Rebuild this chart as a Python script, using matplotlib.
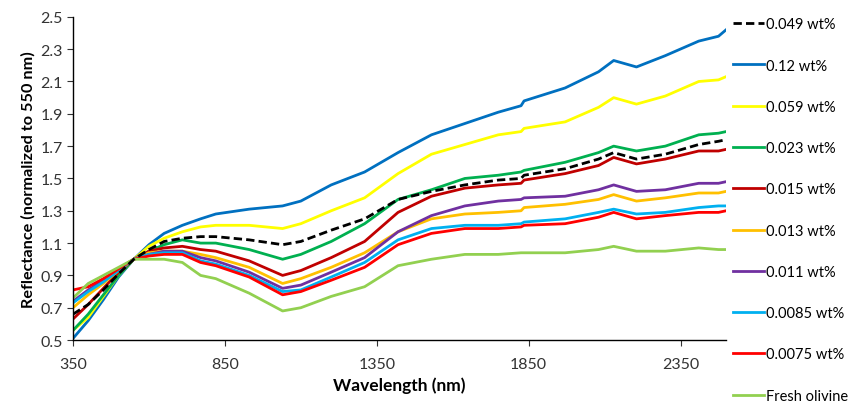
import matplotlib
matplotlib.use("Agg")
import matplotlib.pyplot as plt

plt.rcParams["font.family"] = ["Lato", "DejaVu Sans"]

# wavelength grid (nm)
wavelength = [350, 400, 450, 500, 550, 600, 650, 710, 770, 820, 930, 1040, 1100,
              1200, 1310, 1420, 1530, 1640, 1750, 1825, 1835, 1970, 2080, 2130,
              2205, 2300, 2410, 2475, 2500]

r_0049 = [0.66, 0.72, 0.81, 0.91, 1.00, 1.06, 1.11, 1.13, 1.14, 1.14, 1.12, 1.09, 1.11,
          1.18, 1.25, 1.37, 1.42, 1.46, 1.49, 1.50, 1.52, 1.56, 1.62, 1.66,
          1.62, 1.65, 1.71, 1.73, 1.74]
r_012 = [0.51, 0.62, 0.75, 0.89, 1.00, 1.09, 1.16, 1.21, 1.25, 1.28, 1.31, 1.33, 1.36,
         1.46, 1.54, 1.66, 1.77, 1.84, 1.91, 1.95, 1.98, 2.06, 2.16, 2.23,
         2.19, 2.26, 2.35, 2.38, 2.42]
r_0059 = [0.56, 0.64, 0.77, 0.90, 1.00, 1.08, 1.13, 1.17, 1.20, 1.21, 1.21, 1.19, 1.22,
          1.30, 1.38, 1.53, 1.65, 1.71, 1.77, 1.79, 1.81, 1.85, 1.94, 2.00,
          1.96, 2.01, 2.10, 2.11, 2.13]
r_0023 = [0.56, 0.66, 0.78, 0.90, 1.00, 1.05, 1.09, 1.12, 1.10, 1.10, 1.06, 1.00, 1.03,
          1.11, 1.22, 1.37, 1.43, 1.50, 1.52, 1.54, 1.55, 1.60, 1.66, 1.70,
          1.67, 1.70, 1.77, 1.78, 1.79]
r_0015 = [0.63, 0.72, 0.82, 0.92, 1.00, 1.05, 1.07, 1.08, 1.06, 1.05, 0.99, 0.90, 0.93,
          1.01, 1.11, 1.29, 1.39, 1.44, 1.46, 1.47, 1.49, 1.53, 1.58, 1.63,
          1.59, 1.62, 1.67, 1.67, 1.68]
r_0013 = [0.70, 0.78, 0.85, 0.93, 1.00, 1.04, 1.05, 1.05, 1.03, 1.01, 0.95, 0.85, 0.88,
          0.95, 1.04, 1.17, 1.25, 1.28, 1.29, 1.30, 1.32, 1.34, 1.37, 1.40,
          1.36, 1.38, 1.41, 1.41, 1.42]
r_0011 = [0.74, 0.81, 0.87, 0.94, 1.00, 1.03, 1.05, 1.05, 1.01, 0.99, 0.92, 0.82, 0.84,
          0.92, 1.01, 1.17, 1.27, 1.33, 1.36, 1.37, 1.38, 1.39, 1.43, 1.46,
          1.42, 1.43, 1.47, 1.47, 1.48]
r_00085 = [0.73, 0.80, 0.86, 0.93, 1.00, 1.03, 1.04, 1.04, 0.99, 0.97, 0.90, 0.80, 0.81,
           0.89, 0.98, 1.12, 1.19, 1.21, 1.21, 1.22, 1.23, 1.25, 1.29, 1.31,
           1.28, 1.29, 1.32, 1.33, 1.33]
r_00075 = [0.81, 0.83, 0.88, 0.94, 1.00, 1.02, 1.03, 1.03, 0.98, 0.96, 0.89, 0.78, 0.80,
           0.87, 0.95, 1.09, 1.16, 1.19, 1.19, 1.20, 1.21, 1.22, 1.26, 1.29,
           1.25, 1.27, 1.29, 1.29, 1.30]
r_fresh = [0.76, 0.85, 0.90, 0.95, 1.00, 1.00, 1.00, 0.98, 0.90, 0.88, 0.79, 0.68, 0.70,
           0.77, 0.83, 0.96, 1.00, 1.03, 1.03, 1.04, 1.04, 1.04, 1.06, 1.08,
           1.05, 1.05, 1.07, 1.06, 1.06]

labels = ["0.049 wt%", "0.12 wt%", "0.059 wt%", "0.023 wt%", "0.015 wt%",
          "0.013 wt%", "0.011 wt%", "0.0085 wt%", "0.0075 wt%", "Fresh olivine"]
series = [r_0049, r_012, r_0059, r_0023, r_0015, r_0013, r_0011, r_00085, r_00075, r_fresh]
colors = ["black", "#0070C0", "#FFFF00", "#00B050", "#C00000",
          "#FFC000", "#7030A0", "#00B0F0", "#FF0000", "#92D050"]

fig = plt.figure(figsize=(8.65, 4.06), dpi=100)
ax = fig.add_axes([0.0844, 0.160, 0.755, 0.796])

for vals, lab, col in zip(series, labels, colors):
    if lab == "0.049 wt%":
        ax.plot(wavelength, vals, color=col, lw=2.0, ls=(0, (3, 1.5)), label=lab, zorder=5)
    else:
        ax.plot(wavelength, vals, color=col, lw=2.0, label=lab)

ax.set_xlim(350, 2500)
ax.set_ylim(0.5, 2.5)
ax.set_xticks([350, 850, 1350, 1850, 2350])
ax.set_yticks([0.5, 0.7, 0.9, 1.1, 1.3, 1.5, 1.7, 1.9, 2.1, 2.3, 2.5])
ax.set_yticklabels([f"{v:.1f}" for v in ax.get_yticks()])
ax.tick_params(labelsize=11.5, colors="#333333", length=4, direction="out")
ax.tick_params(axis="x", pad=8)
for s in ["top", "right"]:
    ax.spines[s].set_visible(False)
for s in ["left", "bottom"]:
    ax.spines[s].set_color("black")
    ax.spines[s].set_linewidth(1.0)

ax.set_xlabel("Wavelength (nm)", fontsize=12.5, fontweight="bold", labelpad=4)
ax.set_ylabel("Reflectance (normalized to 550 nm)", fontsize=11.7, fontweight="bold", labelpad=3)

fig.legend(loc="upper left", bbox_to_anchor=(0.836, 0.98), frameon=False,
           fontsize=10.5, handlelength=2.1, handletextpad=0.15,
           labelspacing=1.87, borderaxespad=0.3)

fig.savefig("out.png", dpi=100)
